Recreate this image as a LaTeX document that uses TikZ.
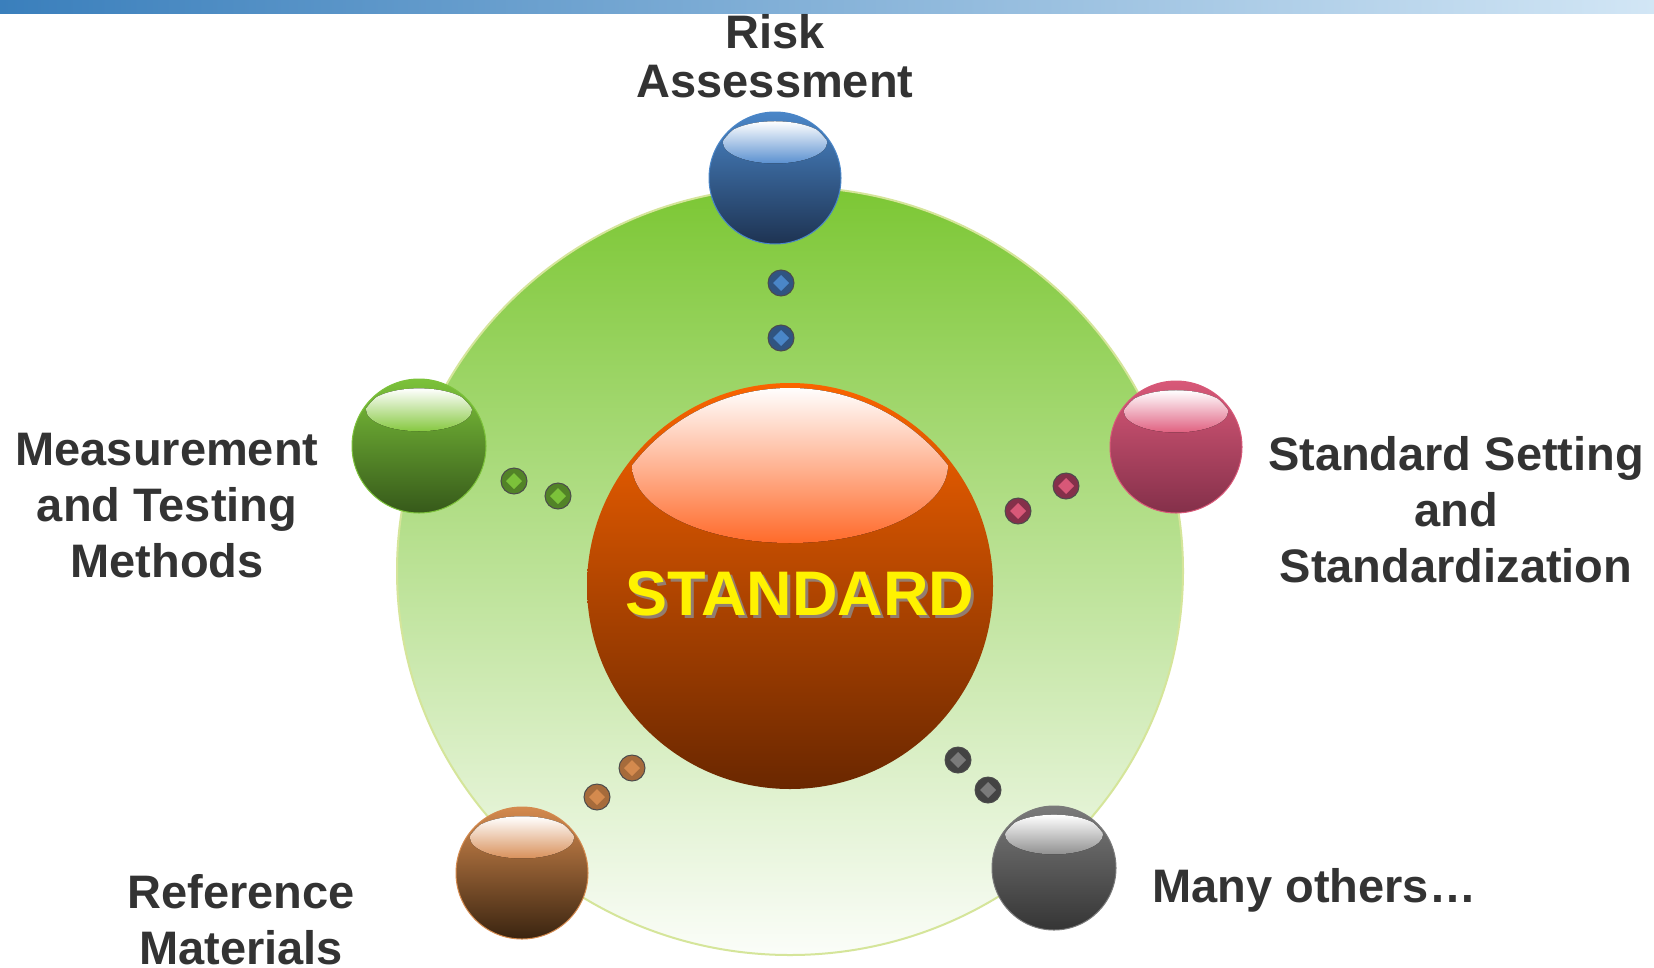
\documentclass[tikz,border=0pt]{standalone}
\usepackage{fontspec}
\setmainfont{Liberation Sans}
\usetikzlibrary{shapes.geometric}
\definecolor{txtgray}{HTML}{333333}
\definecolor{barL}{HTML}{3A7FBC}
\definecolor{barM}{HTML}{A4C8E4}
\definecolor{barR}{HTML}{D2E6F5}
\definecolor{grTop}{HTML}{7CC734}
\definecolor{grMid}{HTML}{C2E3A6}
\definecolor{grBot}{HTML}{FBFDF9}
\definecolor{grRim}{HTML}{D5E59A}
\definecolor{orTop}{HTML}{FA6400}
\definecolor{orMid}{HTML}{CC5200}
\definecolor{orBot}{HTML}{6A2700}
\definecolor{orHl}{HTML}{FF6A2A}
\definecolor{blTop}{HTML}{4A86C8}
\definecolor{blBot}{HTML}{1E3352}
\definecolor{blHl}{HTML}{5A90D0}
\definecolor{gnTop}{HTML}{7CC23A}
\definecolor{gnBot}{HTML}{36591A}
\definecolor{gnHl}{HTML}{86C840}
\definecolor{pkTop}{HTML}{D85878}
\definecolor{pkBot}{HTML}{84304A}
\definecolor{pkHl}{HTML}{E06080}
\definecolor{brTop}{HTML}{D48A4E}
\definecolor{brBot}{HTML}{3A2410}
\definecolor{brHl}{HTML}{D8905A}
\definecolor{gyTop}{HTML}{7A7A7A}
\definecolor{gyBot}{HTML}{353535}
\definecolor{gyHl}{HTML}{909090}
\newcommand\glossball[8]{%
  \node[circle, minimum size={2*#4*1bp}, inner sep=0pt, top color=#5, bottom color=#6, draw=#7, line width=1bp] (#1) at (#2,#3) {};
  \begin{scope}
    \clip (#2,#3+0.01*#4) circle [radius={0.975*#4}];
    \fill[top color=white, bottom color=#8] (#2,#3-0.54*#4) ellipse [x radius={0.79*#4}, y radius={0.32*#4}];
  \end{scope}}
\newcommand\beadball[5]{%
  \node[circle, minimum size=26bp, inner sep=0pt, fill=#4, draw=black!70, line width=1bp] (#1) at (#2,#3) {};
  \fill[#5] (#2-8,#3) -- (#2,#3-8) -- (#2+8,#3) -- (#2,#3+8) -- cycle;}
\tikzset{lbl/.style={font=\bfseries\fontsize{47bp}{56bp}\selectfont, text=txtgray, align=center, inner sep=0pt}}
\begin{document}
\begin{tikzpicture}[x=1bp,y=-1bp]
\useasboundingbox (0,0) rectangle (1654,967);
\fill[white] (0,0) rectangle (1654,967);
% top bar
\shade[left color=barL, middle color=barM, right color=barR] (0,0) rectangle (1654,13);
% big green disc
\node[ellipse, minimum width=786bp, minimum height=768bp, inner sep=0pt, top color=grTop, middle color=grMid, bottom color=grBot, draw=grRim, line width=2bp] (disc) at (790,571) {};
% central sphere
\node[circle, minimum size=406bp, inner sep=0pt, top color=orTop, middle color=orMid, bottom color=orBot] (core) at (790,586) {};
\begin{scope}
  \clip (790,588) circle [radius=200];
  \fill[top color=white, bottom color=orHl] (790,465) ellipse [x radius=158, y radius=78];
\end{scope}
\node[font=\bfseries\fontsize{63bp}{63bp}\selectfont, text=black!45, opacity=0.8, anchor=base, inner sep=0pt] at (803,618) {STANDARD};
\node[font=\bfseries\fontsize{63bp}{63bp}\selectfont, text=yellow, anchor=base, inner sep=0pt] (stdtext) at (800,615) {STANDARD};
% satellites
\glossball{risk}{775}{178}{66}{blTop}{blBot}{blTop}{blHl}
\glossball{meas}{419}{446}{67}{gnTop}{gnBot}{gnTop}{gnHl}
\glossball{sset}{1176}{447}{66}{pkTop}{pkBot}{pkTop}{pkHl}
\glossball{refm}{522}{873}{66}{brTop}{brBot}{brTop}{brHl}
\glossball{many}{1054}{868}{62}{gyTop}{gyBot}{gyTop}{gyHl}
% beads
\beadball{b1}{781}{283}{blBot!60!blTop}{blTop}
\beadball{b2}{781}{338}{blBot!60!blTop}{blTop}
\beadball{g1}{514}{481}{gnBot!60!gnTop}{gnTop}
\beadball{g2}{558}{496}{gnBot!60!gnTop}{gnTop}
\beadball{p1}{1066}{486}{pkBot}{pkTop}
\beadball{p2}{1018}{511}{pkBot}{pkTop}
\beadball{r1}{632}{768}{brTop!70!brBot}{brTop}
\beadball{r2}{597}{797}{brTop!70!brBot}{brTop}
\beadball{m1}{958}{760}{gyBot!80!gyTop}{gyTop}
\beadball{m2}{988}{790}{gyBot!80!gyTop}{gyTop}
% labels (anchor base = baseline of last line)
\node[lbl, font=\bfseries\fontsize{47bp}{49bp}\selectfont, anchor=base] (tRisk) at (775,97) {Risk\\Assessment};
\node[lbl, anchor=base] (tMeas) at (167,577) {Measurement\\and Testing\\Methods};
\node[lbl, anchor=base] (tSset) at (1456,582) {Standard Setting\\and\\Standardization};
\node[lbl, anchor=base] (tRefm) at (241,964) {Reference\\Materials};
\node[lbl, anchor=base west] (tMany) at (1152,902) {Many others…};
\end{tikzpicture}
\end{document}
